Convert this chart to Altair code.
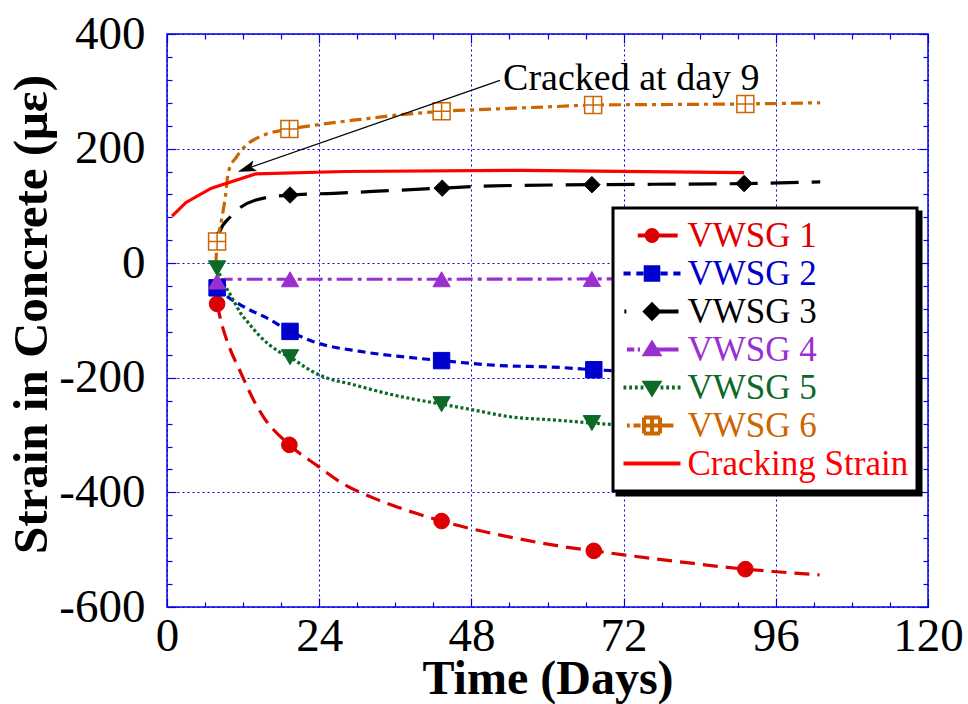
import math
import altair as alt
import pandas as pd

FONT = "Liberation Serif"
SERIES = ["VWSG 1", "VWSG 2", "VWSG 3", "VWSG 4", "VWSG 5", "VWSG 6", "Cracking Strain"]

# ---- data (days, strain in micro-strain) ----
v1_day = [7.9, 8.4, 10.1, 11.3, 13.9, 15.2, 19.3, 23.9, 27.6, 32.6, 39.4, 43.3, 47.8, 54.1, 61.5, 67.3, 72.0, 83.0, 91.2, 95.6, 102.9]
v1_val = [-71, -96, -154, -183, -244, -268, -317, -355, -384, -410, -437, -450, -463, -478, -493, -502, -509, -524, -534, -538, -544]
v1_mk_day = [7.9, 19.3, 43.3, 67.3, 91.2]
v1_mk_val = [-71, -317, -450, -502, -534]

v2_day = [7.9, 9.5, 12.1, 15.8, 19.4, 23.1, 30.5, 37.8, 43.3, 51.5, 62.0, 67.3, 80.0, 91.2, 103.0]
v2_val = [-43, -58, -76, -96, -119, -137, -154, -164, -170, -178, -182, -186, -190, -193, -196]
v2_mk_day = [7.9, 19.4, 43.3, 67.3, 91.2]
v2_mk_val = [-43, -119, -170, -186, -193]

v3_day = [7.9, 8.3, 10.0, 13.9, 19.4, 26.3, 35.7, 43.4, 51.5, 67.0, 80.0, 91.0, 103.0]
v3_val = [40, 55, 81, 110, 119, 122, 127, 131, 135, 137, 138, 139, 142]
v3_mk_day = [7.9, 19.4, 43.4, 67.0, 91.0]
v3_mk_val = [40, 119, 131, 137, 139]

v4_day = [7.9, 9.0, 19.4, 43.3, 67.0, 91.0, 103.0]
v4_val = [-32, -28, -28, -28, -27.5, -27, -27]
v4_mk_day = [7.9, 19.4, 43.3, 67.0, 91.0]
v4_mk_val = [-32, -28, -28, -27.5, -27]

v5_day = [7.9, 8.9, 10.0, 11.6, 12.9, 14.7, 17.6, 19.4, 22.6, 24.2, 29.4, 35.7, 43.3, 47.8, 54.1, 61.5, 67.0, 80.0, 91.0, 103.0]
v5_val = [-9, -34, -55, -87, -105, -128, -154, -164, -187, -196, -212, -230, -246, -255, -268, -274, -279, -288, -295, -300]
v5_mk_day = [7.9, 19.4, 43.3, 67.0, 91.0]
v5_mk_val = [-9, -164, -246, -279, -295]

v6_day = [7.7, 7.9, 8.4, 9.2, 9.7, 11.0, 12.6, 14.7, 19.3, 23.7, 30.5, 36.8, 43.3, 51.5, 61.5, 67.2, 80.0, 91.2, 103.0]
v6_val = [-3, 38, 64, 116, 160, 186, 207, 221, 234, 241.5, 251, 259, 265, 269, 273.5, 276, 277, 278, 280]
v6_mk_day = [7.9, 19.3, 43.3, 67.2, 91.2]
v6_mk_val = [38, 234, 265, 276, 278]

crack_day = [0.8, 3, 7, 14, 28, 56, 91]
crack_val = [82, 106, 131, 156, 160, 162, 158]

note_text = ["Cracked at day 9"]
note_day = [53.0]
note_val = [303]
arrow_tail = (52.5, 319)
arrow_tip = (11.3, 160)

x_major = [0, 24, 48, 72, 96, 120]
x_minor = list(range(0, 121, 6))
y_major = [-600, -400, -200, 0, 200, 400]
y_minor = list(range(-600, 401, 40))

# ---- styling ----
COLORS = {"VWSG 1": "#dd0000", "VWSG 2": "#0000cc", "VWSG 3": "#000000", "VWSG 4": "#9a2fd0",
          "VWSG 5": "#0b6a26", "VWSG 6": "#cc6600", "Cracking Strain": "#ff0000"}
DASHES = {"VWSG 1": [15, 8], "VWSG 2": [8, 5], "VWSG 3": [28, 13], "VWSG 4": [16, 5, 4, 5],
          "VWSG 5": [3, 2.5], "VWSG 6": [12, 5, 4, 5], "Cracking Strain": None}
BOX = "M-1,-1H1V1H-1Z M0,-1V1 M-1,0H1"
MARKERS = {"VWSG 1": ("circle", 246), "VWSG 2": ("square", 270), "VWSG 3": ("diamond", 270),
           "VWSG 4": ("triangle-up", 300), "VWSG 5": ("triangle-down", 300), "VWSG 6": (BOX, 289)}
AXIS_BLUE = "#0000ee"

W, H = 761, 573
PX_DAY = W / 120.0
PX_VAL = H / 1000.0

line_sets = {"VWSG 1": (v1_day, v1_val), "VWSG 2": (v2_day, v2_val), "VWSG 3": (v3_day, v3_val),
             "VWSG 4": (v4_day, v4_val), "VWSG 5": (v5_day, v5_val), "VWSG 6": (v6_day, v6_val),
             "Cracking Strain": (crack_day, crack_val)}
mk_sets = {"VWSG 1": (v1_mk_day, v1_mk_val), "VWSG 2": (v2_mk_day, v2_mk_val), "VWSG 3": (v3_mk_day, v3_mk_val),
           "VWSG 4": (v4_mk_day, v4_mk_val), "VWSG 5": (v5_mk_day, v5_mk_val), "VWSG 6": (v6_mk_day, v6_mk_val)}

rows = []
for s, (d, v) in line_sets.items():
    for i, (a, b) in enumerate(zip(d, v)):
        rows.append({"series": s, "day": a, "strain": b, "i": i})
lines_df = pd.DataFrame(rows)
mrows = []
for s, (d, v) in mk_sets.items():
    for a, b in zip(d, v):
        mrows.append({"series": s, "day": a, "strain": b})
marks_df = pd.DataFrame(mrows)

XS = alt.Scale(domain=[0, 120], nice=False, zero=False)
YS = alt.Scale(domain=[-600, 400], nice=False, zero=False)


def X(field="day", axis=None):
    return alt.X(f"{field}:Q", scale=XS, axis=axis)


def Y(field="strain", axis=None):
    return alt.Y(f"{field}:Q", scale=YS, axis=axis)


layers = []

# axis layers (empty data; only carry axes)
empty = pd.DataFrame({"day": [0.0], "strain": [0.0]})
main_x = alt.Axis(orient="bottom", values=x_major, grid=True, gridColor=AXIS_BLUE, gridDash=[2, 3], gridWidth=1,
                  ticks=False, tickSize=0, domain=False, labelFont=FONT, labelFontSize=47, labelColor="black",
                  labelPadding=6, labelFlush=False, labelOverlap=False, title="Time (Days)", titleFont=FONT,
                  titleFontSize=48, titleFontWeight="bold", titleColor="black", titleY=86,
                  titleBaseline="alphabetic")
main_y = alt.Axis(orient="left", values=y_major, grid=True, gridColor=AXIS_BLUE, gridDash=[2, 3], gridWidth=1,
                  ticks=False, tickSize=0, domain=False, labelFont=FONT, labelFontSize=47, labelColor="black",
                  labelPadding=22, labelFlush=False, labelOverlap=False, labelExpr="'' + datum.value",
                  title="Strain in Concrete (\u03bc\u03b5)", titleFont=FONT, titleFontSize=49,
                  titleFontWeight="bold", titleColor="black", titleAngle=270, titleX=-121, titleY=280,
                  titleAlign="center", titleBaseline="alphabetic")
layers.append(alt.Chart(empty).transform_filter("false").mark_point(opacity=0).encode(
    x=X(axis=main_x), y=Y(axis=main_y)))

xt = {"condition": {"test": "datum.value % 24 === 0", "value": 9}, "value": 5}
yt = {"condition": {"test": "datum.value % 200 === 0", "value": 9}, "value": 5}


def tick_axis(orient, values, size, offset):
    return alt.Axis(orient=orient, values=values, tickSize=size, offset=offset, labels=False, domain=False,
                    grid=False, title=None, tickColor=AXIS_BLUE, tickWidth=1.2)


# bottom edge ticks (top axis shifted to bottom) & left edge ticks (right axis shifted left)
layers.append(alt.Chart(empty).transform_filter("false").mark_point(opacity=0).encode(
    x=X(axis=tick_axis("top", x_minor, xt, -H)), y=Y(axis=tick_axis("right", y_minor, yt, -W))))
# top edge ticks & right edge ticks
layers.append(alt.Chart(empty).transform_filter("false").mark_point(opacity=0).encode(
    x=X(axis=tick_axis("bottom", x_minor, xt, -H)), y=Y(axis=tick_axis("left", y_minor, yt, -W))))

# data lines
for s in SERIES:
    kw = dict(color=COLORS[s], strokeWidth=3.2, interpolate="monotone" if s != "Cracking Strain" else "linear")
    if DASHES[s] is not None:
        kw["strokeDash"] = DASHES[s]
    layers.append(alt.Chart(lines_df).transform_filter(alt.datum.series == s).mark_line(**kw).encode(
        x=X(), y=Y(), order="i:Q"))

# markers
for s in SERIES[:6]:
    shp, sz = MARKERS[s]
    if s == "VWSG 6":
        mk = alt.Chart(marks_df).transform_filter(alt.datum.series == s).mark_point(
            shape=shp, size=sz, filled=True, fill="white", stroke=COLORS[s], strokeWidth=1.5, opacity=1)
    else:
        mk = alt.Chart(marks_df).transform_filter(alt.datum.series == s).mark_point(
            shape=shp, size=sz, filled=True, fill=COLORS[s], stroke=COLORS[s], strokeWidth=1, opacity=1)
    layers.append(mk.encode(x=X(), y=Y()))

# annotation
note_df = pd.DataFrame({"label": note_text, "day": note_day, "strain": note_val})
layers.append(alt.Chart(note_df).mark_text(font=FONT, fontSize=38, align="left", baseline="alphabetic",
                                           color="black").encode(x=X(), y=Y(), text="label:N"))
dx = (arrow_tip[0] - arrow_tail[0]) * PX_DAY
dy = -(arrow_tip[1] - arrow_tail[1]) * PX_VAL
plen = math.hypot(dx, dy)
ux, uy = dx / plen, dy / plen
head_len = 17.0
cx_px = -ux * head_len / 2
cy_px = -uy * head_len / 2
head_day = arrow_tip[0] + cx_px / PX_DAY
head_val = arrow_tip[1] - cy_px / PX_VAL
angle = math.degrees(math.atan2(dx, -dy)) % 360
arrow_df = pd.DataFrame({"day": [arrow_tail[0]], "strain": [arrow_tail[1]],
                         "day2": [head_day], "strain2": [head_val]})
layers.append(alt.Chart(arrow_df).mark_rule(color="black", strokeWidth=1.2).encode(
    x=X(), y=Y(), x2="day2:Q", y2="strain2:Q"))
head_df = pd.DataFrame({"day": [head_day], "strain": [head_val]})
layers.append(alt.Chart(head_df).mark_point(shape="M0,-1L0.6,1L0,0.55L-0.6,1Z", size=head_len ** 2,
                                            filled=True, fill="black", stroke="black", strokeWidth=0.5,
                                            opacity=1, angle=round(angle, 2)).encode(x=X(), y=Y()))

# legend layer (no marks drawn, carries the legend)
C = "M-{r},0A{r},{r} 0 1,0 {r},0A{r},{r} 0 1,0 -{r},0Z"
LEG_PATHS = [
    "M-0.5,0H0.9 " + C.format(r=0.19),
    "M-1,0H-0.75M-0.55,0H-0.3M0.3,0H0.55M0.75,0H1 M-0.22,-0.22H0.22V0.22H-0.22Z",
    "M-0.97,0H-0.9M0,0H0.93 M0,-0.24L0.24,0L0,0.24L-0.24,0Z",
    "M-0.88,0H-0.62M-0.5,0H-0.42M0,0H0.93 M0,-0.22L0.24,0.17L-0.24,0.17Z",
    "M-1,0H-0.9M-0.8,0H-0.7M-0.6,0H-0.5M-0.4,0H-0.3M0.3,0H0.4M0.5,0H0.6M0.7,0H0.8M0.9,0H1 M0,0.22L0.24,-0.17L-0.24,-0.17Z",
    "M-0.88,0H-0.78M-0.65,0H-0.4M0.28,0H0.75 M-0.28,-0.28H0.28M0.28,-0.28V0.28M0.28,0.28H-0.28M-0.28,0.28V-0.28M0,-0.28V0.28M-0.28,0H0.28",
    "M-1,0H1",
]
FILLS = [COLORS[s] for s in SERIES[:5]] + ["#ffffff", "transparent"]
STROKES = [COLORS[s] for s in SERIES]
label_expr = ""
for s in SERIES[:-1]:
    label_expr += f"datum.label == '{s}' ? '{COLORS[s]}' : "
label_expr += f"'{COLORS['Cracking Strain']}'"
LEG_SIZE = 57 * 57
LEG_X, LEG_Y, LEG_PAD, ROW_H = 446, 174, 8.5, 38
LABEL_FS = 35
common_leg = dict(title=None, orient="none", padding=LEG_PAD, rowPadding=0, clipHeight=ROW_H,
                  labelFont=FONT, labelFontSize=LABEL_FS, labelLimit=0, symbolSize=LEG_SIZE,
                  symbolStrokeWidth=4)
leg = alt.Legend(legendX=LEG_X, legendY=LEG_Y, fillColor="white", strokeColor="black", labelOffset=5,
                 labelColor={"expr": label_expr}, zindex=2, **common_leg)
legend_df = pd.DataFrame({"series": SERIES})
layers.append(alt.Chart(legend_df).transform_filter("false").mark_point(
    filled=True, opacity=1, size=LEG_SIZE, strokeWidth=4).encode(
    shape=alt.Shape("series:N", scale=alt.Scale(domain=SERIES, range=LEG_PATHS), legend=leg),
    fill=alt.Fill("series:N", scale=alt.Scale(domain=SERIES, range=FILLS), legend=leg),
    stroke=alt.Stroke("series:N", scale=alt.Scale(domain=SERIES, range=STROKES), legend=leg),
))

# drop shadow of the legend box: a second, all-black legend of the same size (no label text),
# offset a few pixels down and right
SHADOW_KEYS = [f"shadow {k}" for k in range(len(SERIES))]
widest_label_px = 6.305 * LABEL_FS  # width of "Cracking Strain" in a Times-metric serif
shadow_leg = alt.Legend(legendX=LEG_X + 4, legendY=LEG_Y + 4, fillColor="black", strokeColor="black",
                        labelColor="black", symbolFillColor="black", symbolStrokeColor="black",
                        labelExpr="''", labelOffset=5 + widest_label_px, zindex=1, **common_leg)
shadow_df = pd.DataFrame({"key": SHADOW_KEYS})
layers.append(alt.Chart(shadow_df).transform_filter("false").mark_point(
    filled=True, opacity=1, size=LEG_SIZE, color="black").encode(
    strokeDash=alt.StrokeDash("key:N", scale=alt.Scale(domain=SHADOW_KEYS, range=[[1, 0]] * len(SHADOW_KEYS)),
                              legend=shadow_leg),
))

chart = alt.layer(*layers).resolve_axis(x="independent", y="independent").properties(
    width=W, height=H, autosize=alt.AutoSizeParams(type="none"),
    padding={"left": 167, "top": 34, "right": 40, "bottom": 97},
).configure_view(stroke=AXIS_BLUE, strokeWidth=1.5).configure_legend(strokeWidth=3)

chart.save("out.html", embed_options={"renderer": "svg", "actions": False})
